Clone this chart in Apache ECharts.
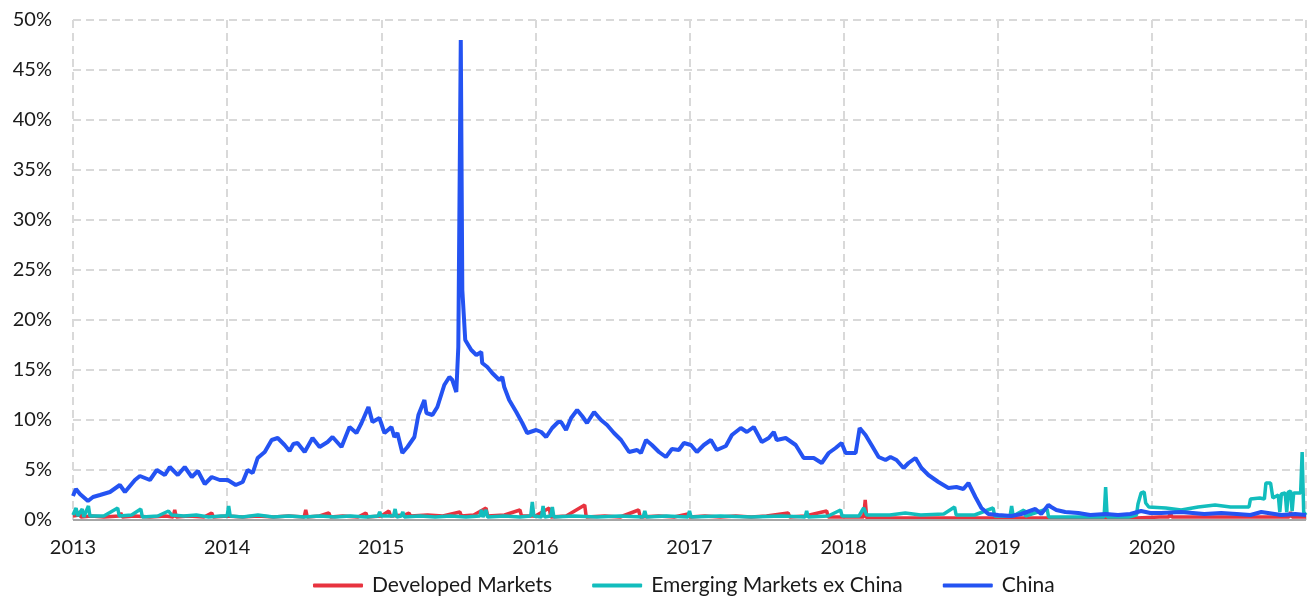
<!DOCTYPE html>
<html>
<head>
<meta charset="utf-8">
<script src="https://cdn.jsdelivr.net/npm/echarts@6/dist/echarts.min.js"></script>
<style>
html,body{margin:0;padding:0;background:#fff;}
#chart{width:1309px;height:597px;}
</style>
</head>
<body>
<div id="chart"></div>
<script>
// x = decimal year, y = percent
const yearTicks = [2013, 2014, 2015, 2016, 2017, 2018, 2019, 2020, 2021];
const seriesNames = ['Developed Markets', 'Emerging Markets ex China', 'China'];

const developedMarkets = [
[2013.00,0.4],[2013.04,0.5],[2013.045,0.9],[2013.05,0.3],[2013.12,0.4],[2013.20,0.3],[2013.30,0.4],[2013.31,0.7],[2013.32,0.3],
[2013.40,0.4],[2013.50,0.3],[2013.60,0.4],[2013.65,0.3],[2013.66,1.0],[2013.67,0.3],[2013.75,0.4],[2013.85,0.3],[2013.90,0.7],
[2013.91,0.3],[2014.00,0.4],[2014.10,0.3],[2014.20,0.4],[2014.30,0.3],[2014.40,0.4],[2014.50,0.3],[2014.51,1.0],[2014.52,0.3],
[2014.60,0.4],[2014.66,0.7],[2014.67,0.3],[2014.75,0.4],[2014.85,0.3],[2014.90,0.7],[2014.91,0.3],[2015.00,0.4],[2015.05,0.9],
[2015.06,0.4],[2015.15,0.5],[2015.18,0.7],[2015.19,0.4],[2015.30,0.5],[2015.40,0.4],[2015.51,0.8],[2015.52,0.4],[2015.60,0.5],
[2015.68,1.2],[2015.69,0.4],[2015.80,0.5],[2015.90,1.0],[2015.91,0.4],[2016.00,0.4],[2016.09,1.2],[2016.10,0.3],[2016.20,0.4],
[2016.32,1.5],[2016.33,0.3],[2016.45,0.4],[2016.55,0.3],[2016.67,1.0],[2016.68,0.3],[2016.80,0.4],[2016.90,0.3],[2016.99,0.6],
[2017.00,0.3],[2017.10,0.4],[2017.20,0.3],[2017.30,0.4],[2017.40,0.3],[2017.50,0.4],[2017.64,0.7],[2017.65,0.3],[2017.75,0.4],
[2017.89,0.9],[2017.90,0.3],[2018.00,0.3],[2018.13,0.3],[2018.14,2.0],[2018.15,0.2],[2018.30,0.2],[2018.50,0.2],[2018.70,0.2],
[2018.90,0.2],[2019.10,0.2],[2019.30,0.2],[2019.50,0.2],[2019.70,0.2],[2019.90,0.2],[2020.05,0.3],[2020.11,0.3],[2020.12,0.7],
[2020.13,0.3],[2020.30,0.3],[2020.50,0.3],[2020.70,0.3],[2020.89,0.3],[2020.90,0.8],[2020.91,0.3],[2021.00,0.3]
];

const emergingExChina = [
[2013.00,0.5],[2013.02,1.2],[2013.03,0.4],[2013.06,1.1],[2013.07,0.3],[2013.10,1.4],[2013.11,0.4],[2013.20,0.4],[2013.29,1.2],
[2013.30,0.4],[2013.38,0.5],[2013.44,1.1],[2013.45,0.3],[2013.55,0.4],[2013.62,0.9],[2013.64,0.5],[2013.72,0.4],[2013.80,0.5],
[2013.88,0.3],[2013.96,0.4],[2014.00,0.4],[2014.01,1.4],[2014.02,0.4],[2014.10,0.3],[2014.20,0.5],[2014.30,0.3],[2014.40,0.4],
[2014.50,0.3],[2014.60,0.4],[2014.70,0.3],[2014.80,0.4],[2014.90,0.3],[2014.98,0.4],[2014.99,0.8],[2015.00,0.4],[2015.08,0.4],
[2015.09,1.1],[2015.10,0.3],[2015.13,0.4],[2015.14,0.8],[2015.15,0.3],[2015.25,0.4],[2015.35,0.3],[2015.45,0.4],[2015.55,0.3],
[2015.64,0.4],[2015.65,1.0],[2015.66,0.3],[2015.68,1.0],[2015.69,0.3],[2015.80,0.4],[2015.90,0.3],[2015.97,0.4],[2015.98,1.8],
[2015.99,0.4],[2016.04,0.3],[2016.05,1.4],[2016.06,0.3],[2016.10,0.4],[2016.11,1.3],[2016.12,0.3],[2016.25,0.4],[2016.40,0.3],
[2016.55,0.4],[2016.70,0.3],[2016.71,0.9],[2016.72,0.3],[2016.85,0.4],[2016.99,0.3],[2017.00,0.9],[2017.01,0.3],[2017.20,0.4],
[2017.40,0.3],[2017.60,0.4],[2017.75,0.3],[2017.76,0.9],[2017.77,0.3],[2017.90,0.4],[2017.98,1.0],[2017.99,0.4],[2018.10,0.4],
[2018.13,1.2],[2018.15,0.5],[2018.30,0.5],[2018.40,0.7],[2018.50,0.5],[2018.65,0.6],[2018.72,1.3],[2018.73,0.5],[2018.85,0.5],
[2018.97,1.2],[2018.98,0.4],[2019.08,0.4],[2019.09,1.4],[2019.10,0.4],[2019.17,1.0],[2019.18,0.4],[2019.32,1.1],[2019.33,0.3],
[2019.45,0.3],[2019.60,0.3],[2019.69,0.3],[2019.70,3.3],[2019.71,0.3],[2019.85,0.3],[2019.90,0.5],[2019.91,1.6],[2019.93,2.7],
[2019.95,2.8],[2019.96,1.7],[2019.98,1.3],[2020.09,1.2],[2020.19,1.0],[2020.30,1.3],[2020.41,1.5],[2020.51,1.3],[2020.60,1.3],
[2020.63,1.3],[2020.64,2.1],[2020.70,2.2],[2020.73,2.1],[2020.74,3.7],[2020.77,3.7],[2020.785,2.2],[2020.82,2.5],[2020.83,0.8],
[2020.84,2.6],[2020.865,2.7],[2020.875,0.8],[2020.885,2.8],[2020.90,2.9],[2020.91,0.9],[2020.92,2.7],[2020.965,2.7],[2020.975,6.8],
[2020.985,0.8],[2021.00,0.5]
];

const china = [
[2013.000,2.4],[2013.019,3.1],[2013.045,2.6],[2013.097,1.9],[2013.130,2.3],[2013.175,2.5],[2013.240,2.8],[2013.304,3.5],
[2013.337,2.8],[2013.402,4.0],[2013.434,4.4],[2013.499,4.0],[2013.544,5.0],[2013.596,4.5],[2013.628,5.3],[2013.680,4.5],
[2013.725,5.3],[2013.771,4.3],[2013.810,4.9],[2013.855,3.6],[2013.900,4.3],[2013.952,4.0],[2014.004,4.0],[2014.056,3.5],
[2014.101,3.8],[2014.133,5.0],[2014.166,4.7],[2014.198,6.2],[2014.244,6.8],[2014.289,8.0],[2014.328,8.2],[2014.373,7.5],
[2014.405,6.9],[2014.430,7.6],[2014.457,7.7],[2014.503,6.8],[2014.554,8.2],[2014.600,7.3],[2014.652,7.8],[2014.684,8.3],
[2014.742,7.3],[2014.794,9.3],[2014.839,8.7],[2014.872,9.7],[2014.917,11.3],[2014.943,9.8],[2014.988,10.2],[2015.021,8.7],
[2015.066,9.3],[2015.085,8.3],[2015.105,8.7],[2015.137,6.7],[2015.170,7.3],[2015.215,8.3],[2015.241,10.5],[2015.280,12.0],
[2015.293,10.7],[2015.332,10.5],[2015.364,11.3],[2015.409,13.5],[2015.442,14.3],[2015.461,14.0],[2015.487,12.8],[2015.500,17.3],
[2015.516,48.0],[2015.526,23.0],[2015.545,18.0],[2015.584,17.0],[2015.617,16.5],[2015.649,16.8],[2015.655,15.7],[2015.688,15.3],
[2015.720,14.7],[2015.766,14.0],[2015.785,14.3],[2015.798,13.3],[2015.830,12.0],[2015.876,10.8],[2015.915,9.7],[2015.947,8.7],
[2016.005,9.0],[2016.038,8.8],[2016.070,8.3],[2016.109,9.2],[2016.148,9.8],[2016.167,9.8],[2016.199,9.0],[2016.232,10.2],
[2016.271,11.0],[2016.303,10.4],[2016.335,9.7],[2016.381,10.8],[2016.426,10.0],[2016.465,9.5],[2016.510,8.7],[2016.556,8.0],
[2016.608,6.8],[2016.660,7.0],[2016.685,6.7],[2016.718,8.0],[2016.756,7.5],[2016.802,6.8],[2016.847,6.3],[2016.886,7.1],
[2016.931,7.0],[2016.964,7.7],[2017.009,7.5],[2017.048,6.8],[2017.093,7.5],[2017.139,8.0],[2017.177,7.0],[2017.236,7.4],
[2017.275,8.5],[2017.333,9.2],[2017.372,8.8],[2017.417,9.3],[2017.469,7.8],[2017.514,8.2],[2017.547,8.8],[2017.566,8.0],
[2017.624,8.2],[2017.689,7.5],[2017.741,6.2],[2017.806,6.2],[2017.858,5.7],[2017.903,6.7],[2017.948,7.2],[2017.987,7.7],
[2018.013,6.7],[2018.078,6.7],[2018.104,9.2],[2018.142,8.5],[2018.181,7.5],[2018.227,6.3],[2018.272,6.0],[2018.304,6.3],
[2018.343,6.0],[2018.389,5.2],[2018.421,5.7],[2018.466,6.2],[2018.505,5.2],[2018.550,4.5],[2018.615,3.8],[2018.680,3.2],
[2018.732,3.3],[2018.777,3.1],[2018.810,3.7],[2018.855,2.3],[2018.894,1.2],[2018.939,0.6],[2019.004,0.5],[2019.088,0.4],
[2019.153,0.6],[2019.244,1.1],[2019.282,0.6],[2019.328,1.5],[2019.347,1.3],[2019.380,1.0],[2019.438,0.8],[2019.522,0.7],
[2019.600,0.5],[2019.700,0.6],[2019.780,0.5],[2019.860,0.6],[2019.930,0.9],[2019.990,0.7],[2020.060,0.7],[2020.190,0.8],
[2020.340,0.6],[2020.450,0.7],[2020.550,0.6],[2020.640,0.5],[2020.710,0.8],[2020.840,0.5],[2020.930,0.6],[2021.000,0.5]
];

const colors = ['#e8333f', '#12bdbd', '#2453f2'];
const FONT = 'Lato';

const chart = echarts.init(document.getElementById('chart'), null, {renderer: 'canvas'});
chart.setOption({
  animation: false,
  backgroundColor: '#ffffff',
  grid: {left: 73, right: 1, top: 20, bottom: 77, containLabel: false},
  legend: {
    top: 570,
    left: 308,
    itemWidth: 50,
    itemHeight: 4,
    itemGap: 40,
    icon: 'roundRect',
    textStyle: {fontFamily: FONT, fontSize: 21, color: '#1a1a1a', padding: [0, 0, 0, 4]},
    data: seriesNames
  },
  xAxis: {
    type: 'value',
    min: 2013,
    max: 2021,
    interval: 1,
    axisLine: {show: false},
    axisTick: {show: false},
    axisLabel: {
      fontFamily: FONT, fontSize: 20, color: '#1a1a1a', margin: 18,
      formatter: v => (v < 2021 ? String(v) : ''),
      showMaxLabel: true
    },
    splitLine: {show: true, lineStyle: {color: '#d9d9d9', width: 2, type: [8, 5]}}
  },
  yAxis: {
    type: 'value',
    min: 0,
    max: 50,
    interval: 5,
    axisLine: {show: false},
    axisTick: {show: false},
    axisLabel: {fontFamily: FONT, fontSize: 20, color: '#1a1a1a', margin: 21, formatter: v => v + '%'},
    splitLine: {show: true, lineStyle: {color: '#d9d9d9', width: 2, type: [8, 5]}}
  },
  series: [
    {name: seriesNames[0], type: 'line', data: developedMarkets, showSymbol: false, symbol: 'none',
     lineStyle: {color: colors[0], width: 3.5}, itemStyle: {color: colors[0]}, z: 2},
    {name: seriesNames[1], type: 'line', data: emergingExChina, showSymbol: false, symbol: 'none',
     lineStyle: {color: colors[1], width: 3.5}, itemStyle: {color: colors[1]}, z: 3},
    {name: seriesNames[2], type: 'line', data: china, showSymbol: false, symbol: 'none',
     lineStyle: {color: colors[2], width: 4}, itemStyle: {color: colors[2]}, z: 4,
     markLine: {silent: true, symbol: 'none', label: {show: false},
       lineStyle: {color: '#a6a6a6', width: 2, type: 'solid'}, data: [{yAxis: 0}]}}
  ]
});
</script>
</body>
</html>
